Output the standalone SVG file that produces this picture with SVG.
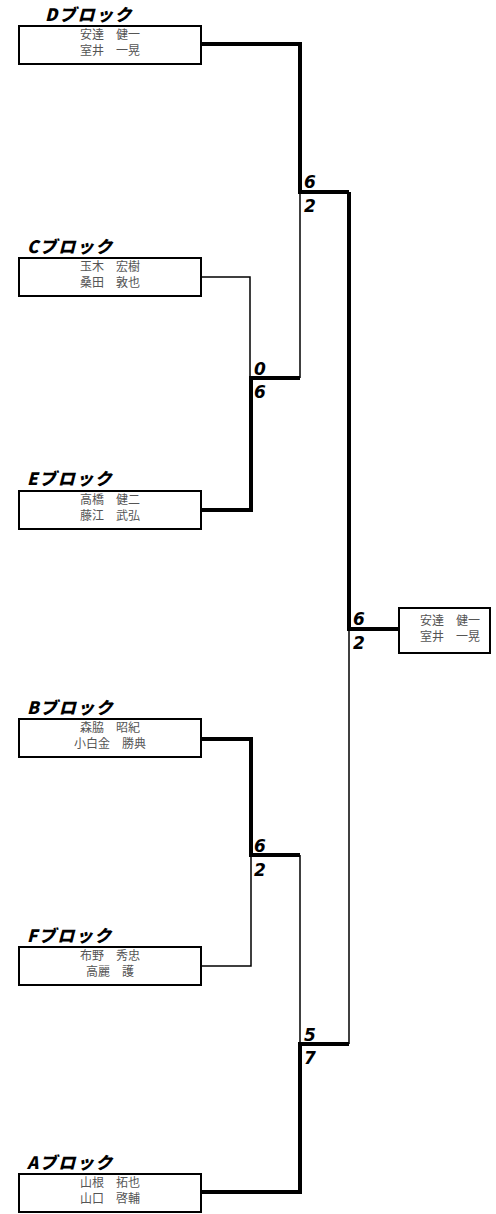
<svg xmlns="http://www.w3.org/2000/svg" width="496" height="1214" viewBox="0 0 496 1214">
<style>
.box{fill:#fff;stroke:#000;stroke-width:2}
.nm{font-family:"Noto Sans CJK JP",sans-serif;font-size:12px;fill:#555;text-anchor:middle}
.lb{font-family:"Noto Sans CJK JP",sans-serif;font-size:17px;font-weight:900;font-style:italic;letter-spacing:1.5px;fill:#000}
.sc{font-family:"DejaVu Sans",sans-serif;font-size:17px;font-weight:bold;font-style:italic;fill:#000}
.thick{fill:none;stroke:#000;stroke-width:4}
.thin{fill:none;stroke:#000;stroke-width:1.5}
</style>
<rect width="496" height="1214" fill="#fff"/>
<g id="connectors">
<polyline class="thin" points="201,277 250,277 250,378"/>
<polyline class="thin" points="300,192 300,378"/>
<polyline class="thin" points="349,629 349,1044"/>
<polyline class="thin" points="201,966 251,966 251,855"/>
<polyline class="thin" points="300,855 300,1044"/>
<polyline class="thick" points="201,44 300,44 300,192 349,192"/>
<polyline class="thick" points="201,510 251,510 251,378 300,378"/>
<polyline class="thick" points="349,192 349,629 399,629"/>
<polyline class="thick" points="201,739 251,739 251,855 300,855"/>
<polyline class="thick" points="201,1192 300,1192 300,1044 349,1044"/>
</g>
<g id="scores">
<text class="sc" x="304" y="188">6</text><text class="sc" x="304" y="212">2</text>
<text class="sc" x="254" y="375">0</text><text class="sc" x="254" y="398">6</text>
<text class="sc" x="353" y="625">6</text><text class="sc" x="353" y="649">2</text>
<text class="sc" x="254" y="852">6</text><text class="sc" x="254" y="876">2</text>
<text class="sc" x="304" y="1041">5</text><text class="sc" x="304" y="1064">7</text>
</g>
<g id="blockD">
<text class="lb" x="45" y="21">Dブロック</text>
<rect class="box" x="19" y="26" width="182" height="38"/>
<text class="nm" x="110" y="39">安達　健一</text>
<text class="nm" x="110" y="55">室井　一晃</text>
</g>
<g id="blockC">
<text class="lb" x="27" y="253">Cブロック</text>
<rect class="box" x="19" y="258" width="182" height="38"/>
<text class="nm" x="110" y="271">玉木　宏樹</text>
<text class="nm" x="110" y="287">桑田　敦也</text>
</g>
<g id="blockE">
<text class="lb" x="27" y="485">Eブロック</text>
<rect class="box" x="19" y="491" width="182" height="38"/>
<text class="nm" x="110" y="504">高橋　健二</text>
<text class="nm" x="110" y="520">藤江　武弘</text>
</g>
<g id="blockB">
<text class="lb" x="27" y="714">Bブロック</text>
<rect class="box" x="19" y="719" width="182" height="38"/>
<text class="nm" x="110" y="732">森脇　昭紀</text>
<text class="nm" x="110" y="748">小白金　勝典</text>
</g>
<g id="blockF">
<text class="lb" x="27" y="942">Fブロック</text>
<rect class="box" x="19" y="947" width="182" height="38"/>
<text class="nm" x="110" y="960">布野　秀忠</text>
<text class="nm" x="110" y="976">高麗　護</text>
</g>
<g id="blockA">
<text class="lb" x="27" y="1169">Aブロック</text>
<rect class="box" x="19" y="1174" width="182" height="38"/>
<text class="nm" x="110" y="1187">山根　拓也</text>
<text class="nm" x="110" y="1203">山口　啓輔</text>
</g>
<g id="winner">
<rect class="box" x="399" y="608" width="91" height="45"/>
<text class="nm" x="450" y="625">安達　健一</text>
<text class="nm" x="450" y="641">室井　一晃</text>
</g>
</svg>
